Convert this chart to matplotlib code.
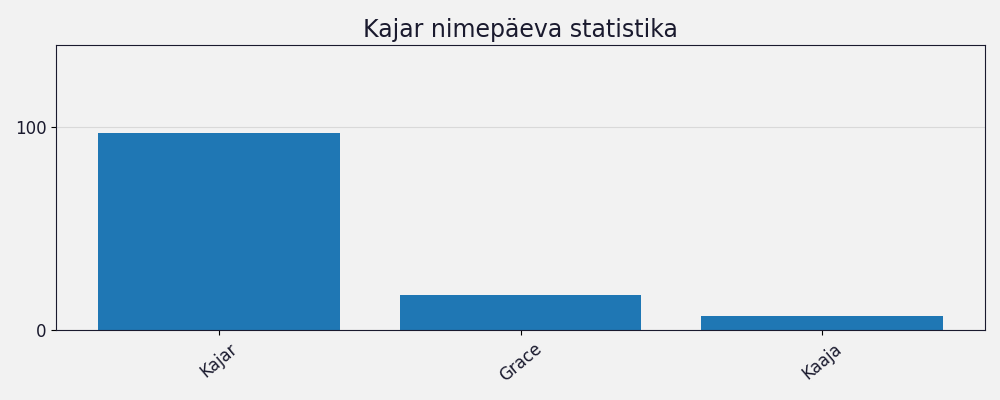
import matplotlib
matplotlib.use("Agg")
import matplotlib.pyplot as plt

names = ["Kajar", "Grace", "Kaaja"]
counts = [97, 17, 7]
yticks = [0, 100]

fig = plt.figure(figsize=(10, 4), dpi=100, facecolor="#f2f2f2")
ax = fig.add_axes([0.056, 0.175, 0.929, 0.712])
ax.set_facecolor("#f2f2f2")
x = list(range(len(names)))
ax.bar(x, counts, width=0.8, color="#1f77b4", zorder=2)
ax.set_xticks(x)
ax.set_xticklabels(names, rotation=40, fontsize=12, color="#1a1a2e")
ax.set_yticks(yticks)
ax.tick_params(axis="y", labelsize=12, labelcolor="#1a1a2e")
ax.set_ylim(0, 140)
ax.set_xlim(-0.54, 2.54)
ax.grid(axis="y", color="#d9d9d9", linewidth=0.8, zorder=0)
ax.set_title("Kajar nimepäeva statistika", fontsize=17, color="#1a1a2e", pad=6)
for s in ax.spines.values():
    s.set_color("#1a1a2e")
fig.savefig("out.png", dpi=100, facecolor="#f2f2f2")
